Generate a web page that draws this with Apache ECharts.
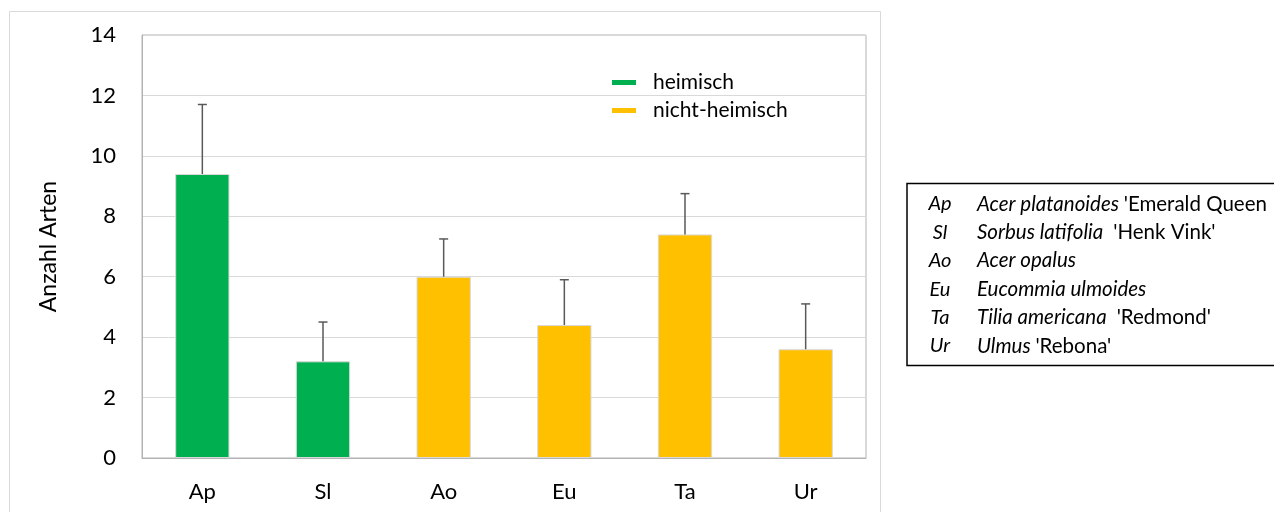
<!DOCTYPE html>
<html>
<head>
<meta charset="utf-8">
<script src="https://cdn.jsdelivr.net/npm/echarts@6/dist/echarts.min.js"></script>
<style>html,body{margin:0;padding:0;background:#fff}#c{width:1274px;height:512px}</style>
</head>
<body>
<div id="c"></div>
<script>
const categories = ['Ap', 'Sl', 'Ao', 'Eu', 'Ta', 'Ur'];
const heimisch = [9.4, 3.2, '-', '-', '-', '-'];
const nichtHeimisch = ['-', '-', 6.0, 4.4, 7.4, 3.6];
const errors = [2.3, 1.3, 1.25, 1.5, 1.35, 1.5];
const yTicks = { min: 0, max: 14, interval: 2 };
const speciesItalic = ['Acer platanoides ', 'Sorbus latifolia ', 'Acer opalus', 'Eucommia ulmoides', 'Tilia americana ', 'Ulmus '];
const speciesNormal = ["'Emerald Queen", " 'Henk Vink'", '', '', " 'Redmond'", "'Rebona'"];

const FONT = 'Lato, "Noto Sans", sans-serif';
const values = categories.map((c, i) => heimisch[i] !== '-' ? heimisch[i] : nichtHeimisch[i]);

const chart = echarts.init(document.getElementById('c'), null, { renderer: 'canvas' });

const keyChildren = [];
categories.forEach((c, i) => {
  const y = 204 + i * 28.4;
  keyChildren.push({
    type: 'text', x: 940, y: y,
    style: { text: c, font: 'italic 20px ' + FONT, fill: '#000', align: 'center', verticalAlign: 'middle' }
  });
  keyChildren.push({
    type: 'text', x: 977, y: y,
    style: {
      text: '{i|' + speciesItalic[i] + '}' + (speciesNormal[i] ? '{n|' + speciesNormal[i] + '}' : ''),
      verticalAlign: 'middle', align: 'left',
      rich: {
        i: { fontStyle: 'italic', fontSize: 20.5, fontFamily: FONT, fill: '#000', color: '#000' },
        n: { fontSize: 20.5, fontFamily: FONT, fill: '#000', color: '#000' }
      }
    }
  });
});

chart.setOption({
  animation: false,
  textStyle: { fontFamily: FONT },
  grid: { left: 142, top: 35, width: 724, height: 423, show: true, borderColor: '#b3b3b3', borderWidth: 1, backgroundColor: 'transparent' },
  legend: {
    data: ['heimisch', 'nicht-heimisch'],
    orient: 'vertical', left: 612, top: 72, itemGap: 7, padding: 0,
    icon: 'rect', itemWidth: 24, itemHeight: 5,
    itemStyle: { borderWidth: 0 },
    textStyle: { fontSize: 21, color: '#000', fontFamily: FONT, padding: [0, 0, 0, 12] }
  },
  xAxis: {
    type: 'category', data: categories,
    axisLine: { show: true, lineStyle: { color: '#b3b3b3' } },
    axisTick: { show: false },
    axisLabel: { fontSize: 22, color: '#000', margin: 23, fontFamily: FONT }
  },
  yAxis: {
    type: 'value', min: yTicks.min, max: yTicks.max, interval: yTicks.interval,
    name: 'Anzahl Arten', nameLocation: 'middle', nameGap: 82, nameRotate: 90,
    nameTextStyle: { fontSize: 23, color: '#000', fontFamily: FONT },
    axisLine: { show: true, lineStyle: { color: '#b3b3b3' } },
    axisTick: { show: false },
    axisLabel: { fontSize: 22, color: '#000', margin: 26, fontFamily: FONT },
    splitLine: { lineStyle: { color: '#d9d9d9', width: 1 } }
  },
  series: [
    {
      name: 'heimisch', type: 'bar', stack: 'a', data: heimisch, barWidth: '45%',
      itemStyle: { color: '#00b050', borderColor: '#d9d9d9', borderWidth: 1 }
    },
    {
      name: 'nicht-heimisch', type: 'bar', stack: 'a', data: nichtHeimisch, barWidth: '45%',
      itemStyle: { color: '#ffc000', borderColor: '#d9d9d9', borderWidth: 1 }
    },
    {
      name: 'err', type: 'custom', z: 5,
      data: categories.map((c, i) => [i, values[i], errors[i]]),
      renderItem: function (params, api) {
        const x = api.value(0), v = api.value(1), e = api.value(2);
        const p0 = api.coord([x, v]);
        const p1 = api.coord([x, v + e]);
        const st = { stroke: '#595959', lineWidth: 1.5 };
        return {
          type: 'group',
          children: [
            { type: 'line', shape: { x1: p0[0], y1: p0[1], x2: p1[0], y2: p1[1] }, style: st },
            { type: 'line', shape: { x1: p1[0] - 4.5, y1: p1[1], x2: p1[0] + 4.5, y2: p1[1] }, style: st }
          ]
        };
      }
    }
  ],
  graphic: [
    { type: 'rect', shape: { x: 9.5, y: 11.5, width: 871, height: 540 }, style: { fill: 'none', stroke: '#d9d9d9', lineWidth: 1 }, silent: true },
    { type: 'rect', shape: { x: 907, y: 183.5, width: 400, height: 182 }, style: { fill: 'none', stroke: '#000', lineWidth: 1.5 }, silent: true },
    { type: 'group', children: keyChildren, silent: true }
  ]
});
</script>
</body>
</html>
